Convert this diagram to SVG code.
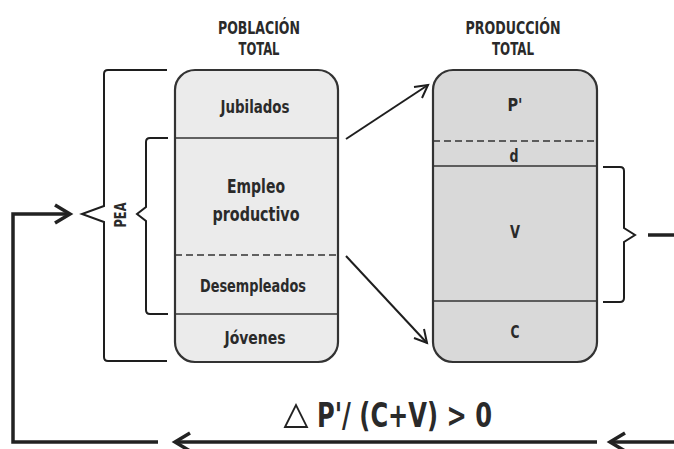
<svg xmlns="http://www.w3.org/2000/svg" width="674" height="449" viewBox="0 0 674 449">
<defs>
<style>
.t{font-family:"DejaVu Sans Condensed","Liberation Sans Narrow","DejaVu Sans",sans-serif;font-weight:bold;fill:#2a2a2a;text-anchor:middle}
.box{stroke:#333;stroke-width:2.2}
.div{stroke:#333;stroke-width:1.6;fill:none}
.dash{stroke:#333;stroke-width:1.6;stroke-dasharray:7 4;fill:none}
.br{stroke:#1e1e1e;stroke-width:2;fill:none;stroke-linejoin:miter}
.thick{stroke:#222;stroke-width:3.5;fill:none}
.thin{stroke:#1e1e1e;stroke-width:2;fill:none}
</style>
</defs>
<rect width="674" height="449" fill="#fff"/>

<g id="poblacion">
<text class="t" x="259" y="34" font-size="18" textLength="82" lengthAdjust="spacingAndGlyphs">POBLACIÓN</text>
<text class="t" x="259" y="55" font-size="18" textLength="41" lengthAdjust="spacingAndGlyphs">TOTAL</text>
<rect class="box" x="175" y="70" width="163" height="292" rx="20" fill="#ebebeb"/>
<line class="div" x1="175" y1="138" x2="338" y2="138"/>
<line class="dash" x1="175" y1="255" x2="338" y2="255"/>
<line class="div" x1="175" y1="314" x2="338" y2="314"/>
<text class="t" x="255" y="113" font-size="18" textLength="69" lengthAdjust="spacingAndGlyphs">Jubilados</text>
<text class="t" x="256" y="193" font-size="19" textLength="58" lengthAdjust="spacingAndGlyphs">Empleo</text>
<text class="t" x="256" y="221" font-size="19" textLength="87" lengthAdjust="spacingAndGlyphs">productivo</text>
<text class="t" x="253" y="292" font-size="18" textLength="106" lengthAdjust="spacingAndGlyphs">Desempleados</text>
<text class="t" x="255" y="344" font-size="18" textLength="61" lengthAdjust="spacingAndGlyphs">Jóvenes</text>
</g>

<g id="produccion">
<text class="t" x="513" y="34" font-size="18" textLength="95" lengthAdjust="spacingAndGlyphs">PRODUCCIÓN</text>
<text class="t" x="513" y="55" font-size="18" textLength="42" lengthAdjust="spacingAndGlyphs">TOTAL</text>
<rect class="box" x="433" y="70" width="164" height="292" rx="20" fill="#d9d9d9"/>
<line class="dash" x1="433" y1="141" x2="597" y2="141"/>
<line class="div" x1="433" y1="166" x2="597" y2="166"/>
<line class="div" x1="433" y1="301" x2="597" y2="301"/>
<text class="t" x="515" y="111" font-size="18" textLength="15" lengthAdjust="spacingAndGlyphs">P'</text>
<text class="t" x="514" y="162" font-size="17" textLength="9" lengthAdjust="spacingAndGlyphs">d</text>
<text class="t" x="515" y="238" font-size="18" textLength="10" lengthAdjust="spacingAndGlyphs">V</text>
<text class="t" x="515" y="338" font-size="18" textLength="9" lengthAdjust="spacingAndGlyphs">C</text>
</g>

<g id="pea">
<path class="br" d="M167,70 H108 Q104,70 104,74 V206 L82,214 L104,222 V357 Q104,361 108,361 H167"/>
<path class="br" d="M168,138 H150 Q146,138 146,142 V207 L137,214 L146,221 V310 Q146,314 150,314 H168"/>
<text class="t" x="0" y="0" font-size="15" textLength="25" lengthAdjust="spacingAndGlyphs" transform="translate(126,215) rotate(-90)">PEA</text>
</g>

<g id="formula">
<path d="M285,427 L296,405 L307,427 Z" fill="none" stroke="#222" stroke-width="1.8"/>
<text class="t" x="317" y="427" font-size="34" style="text-anchor:start" textLength="175" lengthAdjust="spacingAndGlyphs">P'/ (C+V) &gt; 0</text>
</g>

<g id="connectors">
<path class="br" d="M603,167 H620 Q624,167 624,171 V228 L635,235 L624,242 V298 Q624,302 620,302 H603"/>
<line class="thick" x1="648" y1="235" x2="674" y2="235"/>
<polyline class="thick" points="158,442 13,442 13,214 70,214"/>
<polyline class="thick" points="55,205 70,214 55,223"/>
<line class="thick" x1="175" y1="442" x2="597" y2="442"/>
<polyline class="thick" points="190,433 175,442 190,451"/>
<line class="thick" x1="610" y1="442" x2="674" y2="442"/>
<polyline class="thick" points="625,433 610,442 625,451"/>
<line class="thin" x1="346" y1="139" x2="428" y2="85"/>
<polyline class="thin" points="414,87 428,85 422,98"/>
<line class="thin" x1="346" y1="256" x2="427" y2="343"/>
<polyline class="thin" points="424,329 427,343 414,338"/>
</g>
</svg>
